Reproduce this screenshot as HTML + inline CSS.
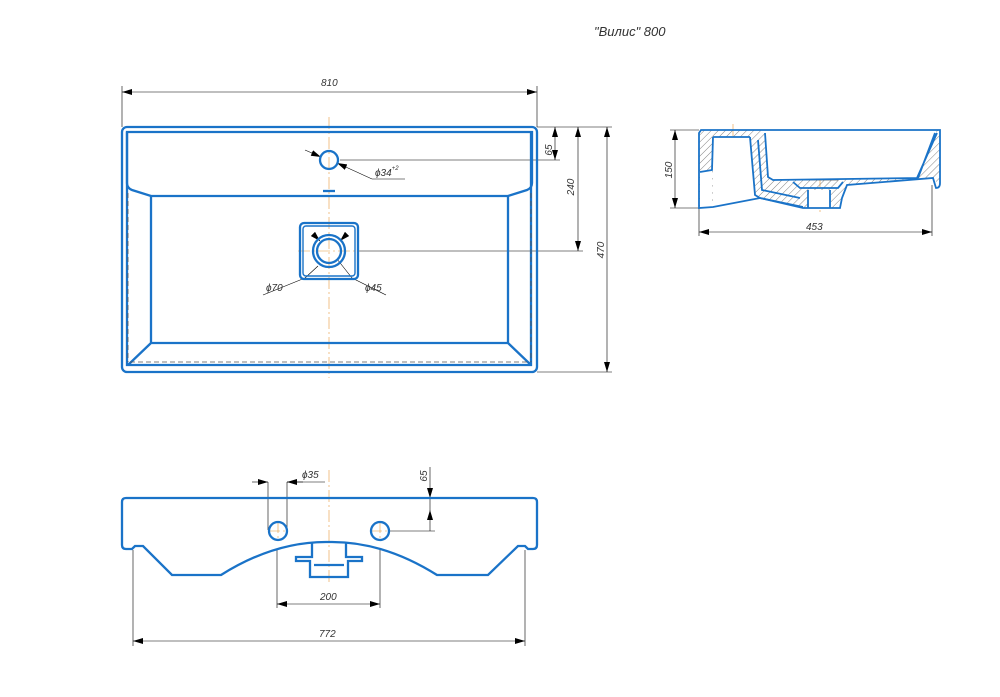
<!DOCTYPE html>
<html><head><meta charset="utf-8"><style>body{margin:0;background:#fff}svg{display:block}text{font-family:"Liberation Sans",sans-serif;font-style:italic;fill:#333;font-size:10px}</style></head><body>
<svg width="1000" height="697" viewBox="0 0 1000 697" xmlns="http://www.w3.org/2000/svg">
<defs><marker id="a" markerWidth="10" markerHeight="6" refX="10" refY="3" orient="auto-start-reverse" markerUnits="userSpaceOnUse"><path d="M0,0L10,3L0,6z" fill="#000"/></marker>
<pattern id="h" width="5" height="5" patternUnits="userSpaceOnUse" patternTransform="rotate(45)"><line x1="0" y1="0" x2="0" y2="5" stroke="#666" stroke-width="0.8"/></pattern></defs>
<text x="594" y="36" style="font-size:13px">"Вилис" 800</text>
<g stroke="#000" stroke-width="0.6" fill="none">
<line x1="122" y1="86" x2="122" y2="127"/><line x1="537" y1="86" x2="537" y2="127"/>
<line x1="122" y1="92" x2="537" y2="92" marker-start="url(#a)" marker-end="url(#a)"/>
<line x1="537" y1="127" x2="612" y2="127"/><line x1="537" y1="372" x2="612" y2="372"/>
<line x1="340" y1="160" x2="560" y2="160"/><line x1="358" y1="251" x2="583" y2="251"/>
<line x1="555" y1="127" x2="555" y2="160" marker-start="url(#a)" marker-end="url(#a)"/>
<line x1="578" y1="127" x2="578" y2="251" marker-start="url(#a)" marker-end="url(#a)"/>
<line x1="607" y1="127" x2="607" y2="372" marker-start="url(#a)" marker-end="url(#a)"/>
<line x1="305" y1="150" x2="321" y2="157" marker-end="url(#a)"/>
<line x1="337" y1="163" x2="372" y2="179" marker-start="url(#a)"/><line x1="372" y1="179" x2="405" y2="179"/>
<line x1="313" y1="234" x2="320" y2="241" marker-end="url(#a)"/><line x1="347" y1="234" x2="340" y2="241" marker-end="url(#a)"/>
<line x1="318" y1="266" x2="305" y2="278"/><line x1="305" y1="278" x2="263" y2="295"/>
<line x1="337" y1="259" x2="352" y2="278"/><line x1="352" y1="278" x2="386" y2="295"/>
</g>
<g fill="none" stroke="#e69a3a" stroke-width="0.6" stroke-dasharray="12,3,2,3">
<line x1="329" y1="117" x2="329" y2="378"/><line x1="298" y1="251" x2="360" y2="251"/>
<line x1="329" y1="470" x2="329" y2="585"/><line x1="268" y1="531" x2="288" y2="531"/><line x1="278" y1="521" x2="278" y2="541"/><line x1="370" y1="531" x2="390" y2="531"/><line x1="380" y1="521" x2="380" y2="541"/>
<line x1="733" y1="124" x2="733" y2="142"/><line x1="820" y1="175" x2="820" y2="212"/><line x1="765" y1="145" x2="772" y2="145"/>
</g>
<text x="321" y="86">810</text>
<text x="555" y="150" transform="rotate(-90 555 150)" text-anchor="middle" dy="-3">65</text>
<text x="578" y="190" transform="rotate(-90 575 190)" text-anchor="middle" dy="-1">240</text>
<text x="604" y="250" transform="rotate(-90 604 250)" text-anchor="middle">470</text>
<text x="375" y="176">ϕ34<tspan style="font-size:6px" dy="-6">+2</tspan></text>
<text x="266" y="291">ϕ70</text><text x="365" y="291">ϕ45</text>
<g fill="none" stroke="#1a73c8" stroke-width="2.3">
<rect x="122" y="127" width="415" height="245" rx="5"/>
<path d="M127 132H532V183Q532 188 527 190L508 196H151L132 190Q127 188 127 183Z"/>
<path d="M151 196V343H508V196M151 343L128 365M508 343L531 365M127 132V365H531V132"/>
<circle cx="329" cy="160" r="9"/>
<rect x="300" y="223" width="58" height="56" rx="4"/><rect x="303" y="226" width="52" height="50" rx="3" stroke-width="1.4"/>
<circle cx="329" cy="251" r="16"/><circle cx="329" cy="251" r="12"/>
<line x1="323" y1="191" x2="335" y2="191"/>
</g>
<line x1="128" y1="193" x2="128" y2="362" stroke="#555" stroke-width="0.8" stroke-dasharray="5,3"/>
<line x1="531" y1="193" x2="531" y2="362" stroke="#555" stroke-width="0.8" stroke-dasharray="5,3"/>
<line x1="130" y1="362" x2="530" y2="362" stroke="#555" stroke-width="0.8" stroke-dasharray="5,3"/>
<g stroke="#000" stroke-width="0.6" fill="none">
<line x1="670" y1="130" x2="699" y2="130"/><line x1="670" y1="208" x2="699" y2="208"/>
<line x1="675" y1="130" x2="675" y2="208" marker-start="url(#a)" marker-end="url(#a)"/>
<line x1="770" y1="133" x2="838" y2="133"/><line x1="790" y1="180" x2="838" y2="180"/>
<line x1="833" y1="133" x2="833" y2="180" marker-start="url(#a)" marker-end="url(#a)"/>
<line x1="699" y1="208" x2="699" y2="236"/><line x1="932" y1="185" x2="932" y2="236"/>
<line x1="699" y1="232" x2="932" y2="232" marker-start="url(#a)" marker-end="url(#a)"/>
</g>
<text x="672" y="170" transform="rotate(-90 672 170)" text-anchor="middle">150</text>
<text x="830" y="157" transform="rotate(-90 830 157)" text-anchor="middle">95</text>
<text x="806" y="230">453</text>
<path d="M699 130H940V180L937 183 933 178 847 185 842 198 840 208H803L760 198 713 207 699 208Z" fill="url(#h)"/>
<g fill="#fff">
<path d="M765 130L768 177 773 180 917 178 937 130Z"/>
<path d="M713 137L750 137 755 195 760 198 713 207Z"/>
<path d="M808 190H830V208H808Z"/>
<path d="M700 172H712V207H700Z"/>
</g>
<g fill="none" stroke="#1a73c8" stroke-width="1.8">
<path d="M701 130H940V183Q940 188 936 188L933 178 847 185 842 198 840 208H803L760 198 713 207 699 208V133Z"/>
<path d="M765 133L768 177 773 180 917 178 937 133M750 137L755 195 760 198 803 207M758 140L762 190 800 198M713 137H750M713 137L712 170 700 172M808 190V208M830 190V208M793 182L800 188H838L843 182M935 133L918 178"/>
</g>
<g stroke="#000" stroke-width="0.6" fill="none">
<line x1="268" y1="482" x2="268" y2="530"/><line x1="287" y1="482" x2="287" y2="530"/>
<line x1="252" y1="482" x2="268" y2="482" marker-end="url(#a)"/><line x1="303" y1="482" x2="287" y2="482" marker-end="url(#a)"/><line x1="287" y1="482" x2="325" y2="482"/>
<line x1="430" y1="467" x2="430" y2="498" marker-end="url(#a)"/><line x1="430" y1="531" x2="430" y2="510" marker-end="url(#a)"/><line x1="430" y1="510" x2="430" y2="498"/>
<line x1="390" y1="531" x2="435" y2="531"/>
<line x1="277" y1="550" x2="277" y2="608"/><line x1="380" y1="550" x2="380" y2="608"/>
<line x1="277" y1="604" x2="380" y2="604" marker-start="url(#a)" marker-end="url(#a)"/>
<line x1="133" y1="550" x2="133" y2="646"/><line x1="525" y1="550" x2="525" y2="646"/>
<line x1="133" y1="641" x2="525" y2="641" marker-start="url(#a)" marker-end="url(#a)"/>
</g>
<text x="302" y="478">ϕ35</text>
<text x="427" y="476" transform="rotate(-90 427 476)" text-anchor="middle">65</text>
<text x="320" y="600">200</text><text x="319" y="637">772</text>
<g fill="none" stroke="#1a73c8" stroke-width="2.3">
<path d="M126 498H533Q537 498 537 502V545Q537 549 533 549H528L525 546H518L488 575H437Q383 541 329 542Q275 541 221 575H172L143 546H135L132 549H126Q122 549 122 545V502Q122 498 126 498Z"/>
<circle cx="278" cy="531" r="9"/><circle cx="380" cy="531" r="9"/>
<path d="M312 543V557H296V561H310V577H348V561H362V557H346V543M314 565H344"/>
</g>
</svg></body></html>
